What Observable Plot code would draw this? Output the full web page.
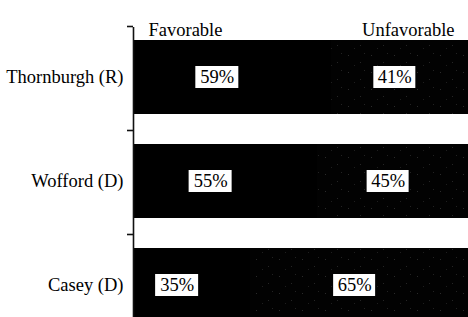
<!DOCTYPE html>
<html>
<head>
<meta charset="utf-8">
<script src="https://cdn.jsdelivr.net/npm/d3@7"></script>
<script src="https://cdn.jsdelivr.net/npm/@observablehq/plot@0.6"></script>
<style>
  html, body { margin: 0; padding: 0; background: #fff; overflow: hidden; }
  #chart { width: 468px; height: 317px; overflow: hidden; }
</style>
</head>
<body>
<div id="chart"></div>
<script>
const candidates = ["Thornburgh (R)", "Wofford (D)", "Casey (D)"];
const responses = ["Favorable", "Unfavorable"];
const favorable = [59, 55, 35];
const unfavorable = [41, 45, 65];

const rows = [];
candidates.forEach((c, i) => {
  const f = favorable[i], u = unfavorable[i];
  rows.push({candidate: c, response: responses[0], value: f, start: 0, end: f, mid: f / 2});
  rows.push({candidate: c, response: responses[1], value: u, start: f, end: f + u, mid: f + u / 2});
});
const fav = rows.filter(d => d.response === responses[0]);
const unf = rows.filter(d => d.response === responses[1]);

const serif = "'Liberation Serif', 'DejaVu Serif', serif";

const plot = Plot.plot({
  width: 468,
  height: 317,
  marginLeft: 133,
  marginRight: 0,
  marginTop: 27,
  marginBottom: 0,
  style: {background: "#fff", fontFamily: serif, overflow: "hidden"},
  x: {domain: [0, 100], axis: null},
  y: {domain: candidates, range: [25, 337], paddingInner: 30 / 104, paddingOuter: 15 / 104, round: false, label: null},
  marks: [
    Plot.barX(unf, {x1: "start", x2: "end", y: "candidate", fill: "url(#stipple)", shapeRendering: "crispEdges"}),
    Plot.barX(fav, {x1: "start", x2: "end", y: "candidate", fill: "#000", shapeRendering: "crispEdges"}),
    Plot.barX(fav, {x1: "mid", x2: "mid", y: "candidate", fill: "#fff", insetLeft: -21.5, insetRight: -21.5, insetTop: 26, insetBottom: 26, dx: -15}),
    Plot.barX(unf, {x1: "mid", x2: "mid", y: "candidate", fill: "#fff", insetLeft: -21, insetRight: -21, insetTop: 26, insetBottom: 26, dx: -5}),
    Plot.text(fav, {x: "mid", y: "candidate", text: d => d.value + "%", fill: "#000", fontSize: 18.5, fontFamily: serif, dx: -15}),
    Plot.text(unf, {x: "mid", y: "candidate", text: d => d.value + "%", fill: "#000", fontSize: 18.5, fontFamily: serif, dx: -5}),
    Plot.ruleX([0], {stroke: "#111", strokeWidth: 1.6}),
    Plot.ruleY(candidates, {y: d => d, x1: 0, x2: 0, insetLeft: -6, dy: -51, stroke: "#111", strokeWidth: 1.6}),
    Plot.axisY({tickSize: 0, tickPadding: 10, fontSize: 18.5, fontFamily: serif, fill: "#000", label: null}),
    Plot.text([responses[0]], {frameAnchor: "top-left", text: d => d, textAnchor: "start", dx: 15, dy: -5, fontSize: 18.5, fontFamily: serif, fill: "#000"}),
    Plot.text([responses[1]], {frameAnchor: "top-right", text: d => d, textAnchor: "end", dx: -14, dy: -5, fontSize: 18.5, fontFamily: serif, fill: "#000"})
  ]
});

const defs = document.createElementNS("http://www.w3.org/2000/svg", "defs");
defs.innerHTML = `<pattern id="stipple" width="23" height="17" patternUnits="userSpaceOnUse">
  <rect width="23" height="17" fill="#020202"></rect>
  <rect x="3" y="4" width="1" height="1" fill="#2a2a2a"></rect>
  <rect x="15" y="11" width="1" height="1" fill="#252525"></rect>
  <rect x="9" y="14" width="1" height="1" fill="#1e1e1e"></rect>
  <rect x="19" y="2" width="1" height="1" fill="#222"></rect>
</pattern>`;
plot.insertBefore(defs, plot.firstChild);

document.getElementById("chart").appendChild(plot);
</script>
</body>
</html>
